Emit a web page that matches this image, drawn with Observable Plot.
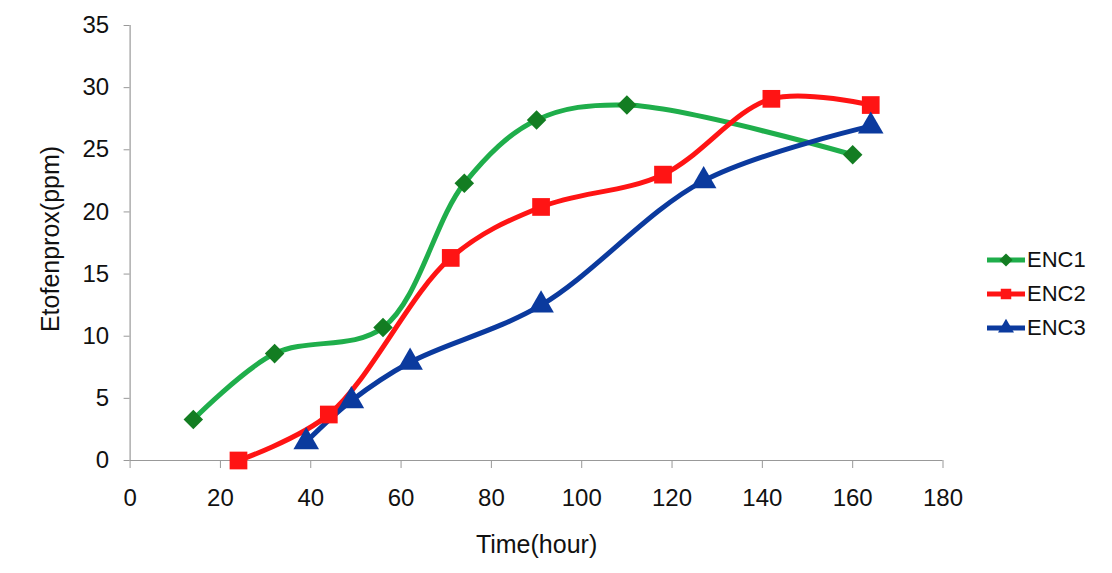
<!DOCTYPE html>
<html>
<head>
<meta charset="utf-8">
<script src="https://cdn.jsdelivr.net/npm/d3@7"></script>
<script src="https://cdn.jsdelivr.net/npm/@observablehq/plot@0.6"></script>
<style>
  html, body { margin: 0; padding: 0; background: #fff; }
  #wrap { position: relative; width: 1112px; height: 573px; }
  #legend { position: absolute; left: 987px; top: 243px; font-family: "Liberation Sans", Arial, sans-serif; font-size: 22px; color: #111; }
  #legend .row { display: flex; align-items: center; height: 34px; }
  #legend svg { margin-right: 2px; }
</style>
</head>
<body>
<div id="wrap"><div id="chart"></div><div id="legend"></div></div>
<script>
// ---- data ----
const seriesNames = ["ENC1", "ENC2", "ENC3"];
const enc1Time = [14, 32, 56, 74, 90, 110, 160];
const enc1Value = [3.3, 8.6, 10.7, 22.3, 27.4, 28.6, 24.6];
const enc2Time = [24, 44, 71, 91, 118, 142, 164];
const enc2Value = [0.0, 3.7, 16.3, 20.4, 23.0, 29.1, 28.6];
const enc3Time = [39, 49, 62, 91, 127, 164];
const enc3Value = [1.5, 4.8, 7.9, 12.5, 22.5, 26.9];
const xTicks = [0, 20, 40, 60, 80, 100, 120, 140, 160, 180];
const yTicks = [0, 5, 10, 15, 20, 25, 30, 35];

// ---- styles ----
const lineColors = ["#1fae4b", "#ff1414", "#0b3a9e"];
const markerColors = ["#137d22", "#ff1414", "#0b3a9e"];
const symbols = ["diamond2", "square", "triangle"];
const radii = [8.8, 10, 9.5];

const times = [enc1Time, enc2Time, enc3Time];
const values = [enc1Value, enc2Value, enc3Value];
const rows = seriesNames.map((s, i) => times[i].map((t, j) => ({series: s, time: t, value: values[i][j]})));

const font = "'Liberation Sans', Arial, sans-serif";
const marks = [
  Plot.axisY({ticks: yTicks, tickSize: 6, tickPadding: 15, stroke: "#999", label: null, fontSize: 24}),
  Plot.axisX({ticks: xTicks, tickSize: 8, tickPadding: 20, stroke: "#999", label: null, fontSize: 24}),
  Plot.ruleX([0], {stroke: "#999", strokeWidth: 1.2}),
  Plot.ruleY([0], {stroke: "#999", strokeWidth: 1.2}),
];
rows.forEach((d, i) => {
  marks.push(Plot.line(d, {x: "time", y: "value", stroke: lineColors[i], strokeWidth: 5, curve: "catmull-rom"}));
});
rows.forEach((d, i) => {
  marks.push(Plot.dot(d, {x: "time", y: "value", fill: markerColors[i], stroke: "none", symbol: () => symbols[i], r: radii[i]}));
});

const chart = Plot.plot({
  width: 1112,
  height: 573,
  marginLeft: 129.6,
  marginRight: 169.5,
  marginTop: 25,
  marginBottom: 113,
  style: {fontFamily: font, color: "#111", background: "#fff"},
  x: {domain: [0, 180]},
  y: {domain: [0, 35]},
  symbol: {type: "identity"},
  marks: [
    ...marks,
    Plot.text(["Time(hour)"], {frameAnchor: "bottom", dy: 92, fontSize: 25, fill: "#111", fontFamily: font}),
    Plot.text(["Etofenprox(ppm)"], {frameAnchor: "left", textAnchor: "middle", dx: -79, dy: -4, rotate: -90, fontSize: 25, fill: "#111", fontFamily: font})
  ]
});
document.getElementById("chart").appendChild(chart);

// ---- legend ----
const legend = document.getElementById("legend");
seriesNames.forEach((name, i) => {
  const row = document.createElement("div");
  row.className = "row";
  const sw = d3.create("svg").attr("width", 38).attr("height", 20);
  sw.append("line").attr("x1", 0).attr("x2", 38).attr("y1", 10).attr("y2", 10)
    .attr("stroke", lineColors[i]).attr("stroke-width", 5);
  const sym = {diamond2: d3.symbolDiamond2, square: d3.symbolSquare, triangle: d3.symbolTriangle}[symbols[i]];
  sw.append("path").attr("transform", "translate(19,10)")
    .attr("d", d3.symbol(sym, 110)()).attr("fill", markerColors[i]);
  row.appendChild(sw.node());
  const t = document.createElement("span");
  t.textContent = name;
  row.appendChild(t);
  legend.appendChild(row);
});
</script>
</body>
</html>
